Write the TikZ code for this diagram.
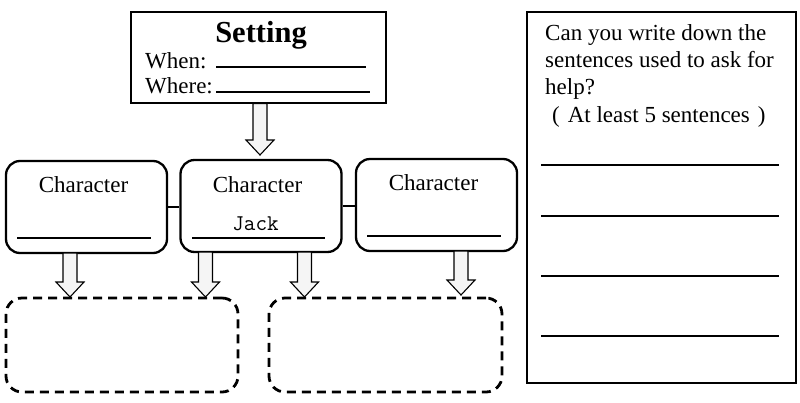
\documentclass[tikz,border=0pt]{standalone}
\usepackage{fontspec}
\setmainfont{Liberation Serif}
\tikzset{
  sqbox/.style={draw, line width=2.5pt, inner sep=0pt},
  charbox/.style={draw, line width=2.3pt, rounded corners=14pt, minimum width=161pt, minimum height=92pt, inner sep=0pt},
  dbox/.style={draw, line width=2.8pt, dash pattern=on 9pt off 6pt, rounded corners=16pt, minimum width=232pt, minimum height=94pt, inner sep=0pt},
  uline/.style={line width=1.3pt},
  txt/.style={font=\fontsize{23}{27}\selectfont, inner sep=0pt, anchor=base west},
  ctxt/.style={font=\fontsize{23}{27}\selectfont, inner sep=0pt, anchor=base},
  barrow/.style={draw, line width=1.1pt, fill=black!4, line join=miter},
}
\newcommand\blockarr[3]{%
  \draw[barrow] (#1-7,#2) -- (#1+7,#2) -- (#1+7,#3-15) -- (#1+14,#3-15) -- (#1,#3) -- (#1-14,#3-15) -- (#1-7,#3-15) -- cycle;}
\begin{document}
\begin{tikzpicture}[x=1pt,y=-1pt]
\useasboundingbox[fill=white] (0,0) rectangle (800,402);

% Setting box
\node[sqbox, minimum width=255pt, minimum height=91pt] (setting) at (258.5,57.5) {};
\node[inner sep=0pt, anchor=base, font=\bfseries\fontsize{30.5}{34}\selectfont] (settitle) at (261,42) {Setting};
\node[txt] (when) at (145,68) {When:};
\node[txt] (where) at (145,93) {Where:};
\coordinate (w1a) at (216,67); \coordinate (w1b) at (366,67);
\coordinate (w2a) at (216,92); \coordinate (w2b) at (370,92);
\draw[uline] (w1a) -- (w1b);
\draw[uline] (w2a) -- (w2b);

% Character boxes
\node[charbox] (c1) at (86.5,207) {};
\node[charbox] (c2) at (261,206) {};
\node[charbox] (c3) at (436.5,205) {};
\node[ctxt] (c1t) at (83.5,192) {Character};
\node[ctxt] (c2t) at (257.5,192) {Character};
\node[ctxt] (c3t) at (433.5,190) {Character};
\node[inner sep=0pt, anchor=base, font=\ttfamily\fontsize{22.5}{25}\selectfont] (jack) at (255.5,230) {Jack};
\draw[uline] (17,238) -- (151,238);
\draw[uline] (192,238) -- (325,238);
\draw[uline] (367,236) -- (501,236);
\draw[line width=1.5pt] (c1.east) -- (c2.west |- c1.east);
\draw[line width=1.5pt] (c2.east) -- (c3.west |- c2.east);

% Arrows
\blockarr{260}{103.5}{155}
\blockarr{70}{253}{297}
\blockarr{205.5}{252}{297}
\blockarr{304.5}{252}{297}
\blockarr{461}{251}{295}

% Dashed boxes
\node[dbox] (d1) at (122,345) {};
\node[dbox, minimum width=233pt] (d2) at (385.5,345) {};

% Right box
\node[sqbox, minimum width=269pt, minimum height=371pt] (right) at (661.5,197.5) {};
\node[txt] (t1) at (545,40) {Can you write down the};
\node[txt] (t2) at (545,67) {sentences used to ask for};
\node[txt] (t3) at (545,94) {help?};
\node[txt] (t4) at (545,122) {\hspace*{7pt}(\hspace{8pt}At least 5 sentences\hspace{8pt})};
\draw[uline] (541,165) -- (779,165);
\draw[uline] (541,216) -- (779,216);
\draw[uline] (541,276) -- (779,276);
\draw[uline] (541,336) -- (779,336);
\end{tikzpicture}
\end{document}
